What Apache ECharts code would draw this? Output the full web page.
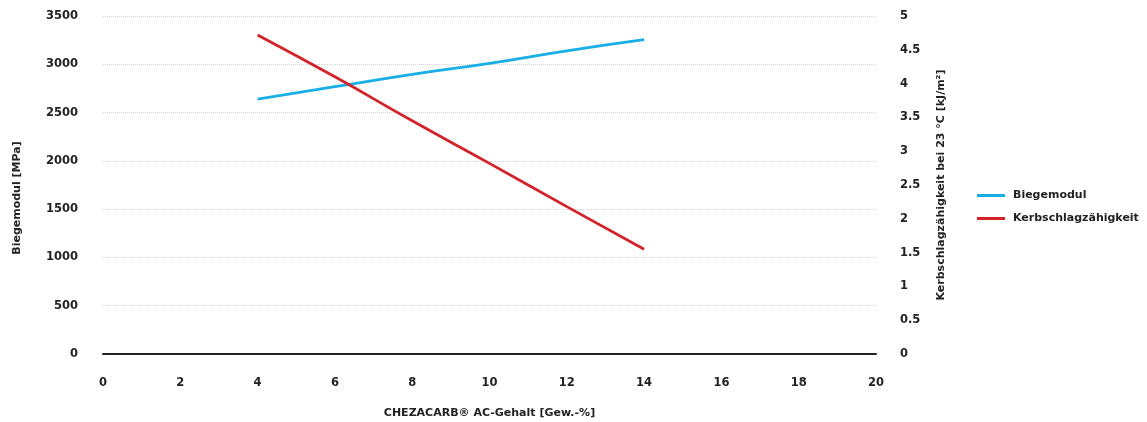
<!DOCTYPE html>
<html><head><meta charset="utf-8">
<script src="https://cdn.jsdelivr.net/npm/echarts@6/dist/echarts.min.js"></script>
<style>html,body{margin:0;padding:0;background:#fff}#c{width:1147px;height:422px}</style>
</head><body><div id="c"></div>
<script>
const xValues = [4, 6, 8, 10, 12, 14];
const biegemodul = [2640, 2768, 2896, 3010, 3140, 3255];
const kerbschlag = [4.72, 4.10, 3.45, 2.82, 2.18, 1.55];
const seriesNames = ['Biegemodul', 'Kerbschlagzähigkeit'];
const xTitle = 'CHEZACARB® AC-Gehalt [Gew.-%]';
const yLeftTitle = 'Biegemodul [MPa]';
const yRightTitle = 'Kerbschlagzähigkeit bei 23 °C [kJ/m²]';

const font = '"DejaVu Sans", sans-serif';
const txt = {fontFamily: font, fontWeight: 'bold', fontSize: 11.5, color: '#222'};
const chart = echarts.init(document.getElementById('c'), null, {renderer: 'canvas'});
chart.setOption({
  animation: false,
  grid: {left: 103, right: 271, top: 16, bottom: 68, outerBoundsMode: 'none'},
  legend: {
    orient: 'vertical', left: 977, top: 190, itemGap: 12, padding: 0,
    itemWidth: 28, itemHeight: 3, icon: 'rect',
    textStyle: Object.assign({}, txt, {fontSize: 11, padding: [0, 0, 0, 3]}),
    data: seriesNames
  },
  xAxis: {
    type: 'value', min: 0, max: 20, interval: 2,
    name: xTitle, nameLocation: 'middle', nameGap: 54,
    nameTextStyle: Object.assign({}, txt, {fontSize: 11}),
    axisLine: {show: true, lineStyle: {color: '#222', width: 2}},
    axisTick: {show: false},
    axisLabel: Object.assign({}, txt, {margin: 23}),
    splitLine: {show: false}
  },
  yAxis: [{
    type: 'value', min: 0, max: 3500, interval: 500,
    name: yLeftTitle, nameLocation: 'middle', nameGap: 80, nameRotate: 90,
    nameTextStyle: Object.assign({}, txt, {fontSize: 11, padding: [0, 26, 0, 0]}),
    axisLine: {show: false}, axisTick: {show: false},
    axisLabel: Object.assign({}, txt, {margin: 25, formatter: v => String(v)}),
    splitLine: {show: true, lineStyle: {color: '#d4d4d4', type: 'dotted', width: 1}}
  }, {
    type: 'value', min: 0, max: 5, interval: 0.5, position: 'right',
    name: yRightTitle, nameLocation: 'middle', nameGap: 60, nameRotate: 90,
    nameTextStyle: Object.assign({}, txt, {fontSize: 11}),
    axisLine: {show: false}, axisTick: {show: false},
    axisLabel: Object.assign({}, txt, {margin: 24, formatter: v => String(v)}),
    splitLine: {show: false}
  }],
  series: [{
    name: seriesNames[0], type: 'line', yAxisIndex: 0, smooth: true, showSymbol: false,
    color: '#19aee6', lineStyle: {width: 2.8, color: '#19aee6'},
    data: xValues.map((x, i) => [x, biegemodul[i]])
  }, {
    name: seriesNames[1], type: 'line', yAxisIndex: 1, smooth: true, showSymbol: false,
    color: '#d2232a', lineStyle: {width: 2.8, color: '#d2232a'},
    data: xValues.map((x, i) => [x, kerbschlag[i]])
  }]
});
</script></body></html>
